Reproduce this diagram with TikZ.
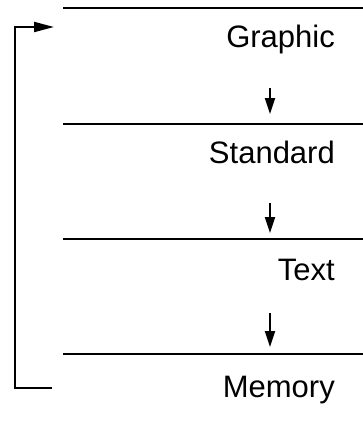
\documentclass[tikz,border=0pt]{standalone}
\usepackage{fontspec}
\setmainfont{Liberation Sans}
\usetikzlibrary{arrows.meta}
\begin{document}
\begin{tikzpicture}[x=1pt,y=-1pt,
  layerline/.style={line width=2.4pt},
  flow/.style={line width=2pt,-{Triangle[length=16pt,width=10pt]}},
  back/.style={line width=2pt,-{Triangle[length=20pt,width=10pt]}},
  label/.style={anchor=base east,inner sep=0pt,font=\fontsize{31}{37}\selectfont}]
\useasboundingbox (0,0) rectangle (363,428);
% layer lines
\coordinate (l1a) at (63,8);   \coordinate (l1b) at (363,8);
\coordinate (l2a) at (63,124); \coordinate (l2b) at (363,124);
\coordinate (l3a) at (63,239); \coordinate (l3b) at (363,239);
\coordinate (l4a) at (63,354); \coordinate (l4b) at (363,354);
\draw[layerline] (l1a) -- (l1b);
\draw[layerline] (l2a) -- (l2b);
\draw[layerline] (l3a) -- (l3b);
\draw[layerline] (l4a) -- (l4b);
% labels
\node[label] (graphic) at (335,48) {Graphic};
\node[label] (standard) at (335,163) {Standard};
\node[label] (text) at (335,280) {Text};
\node[label] (memory) at (335,397) {Memory};
% flow arrows
\coordinate (a1s) at (270,88);  \coordinate (a1e) at (270,114);
\coordinate (a2s) at (270,203); \coordinate (a2e) at (270,233);
\coordinate (a3s) at (270,313); \coordinate (a3e) at (270,347);
\draw[flow] (a1s) -- (a1e);
\draw[flow] (a2s) -- (a2e);
\draw[flow] (a3s) -- (a3e);
% feedback
\coordinate (fbs) at (52,388);
\coordinate (fbe) at (54,27);
\draw[back] (fbs) -- (15,388) -- (15,27) -- (fbe);
\end{tikzpicture}
\end{document}
